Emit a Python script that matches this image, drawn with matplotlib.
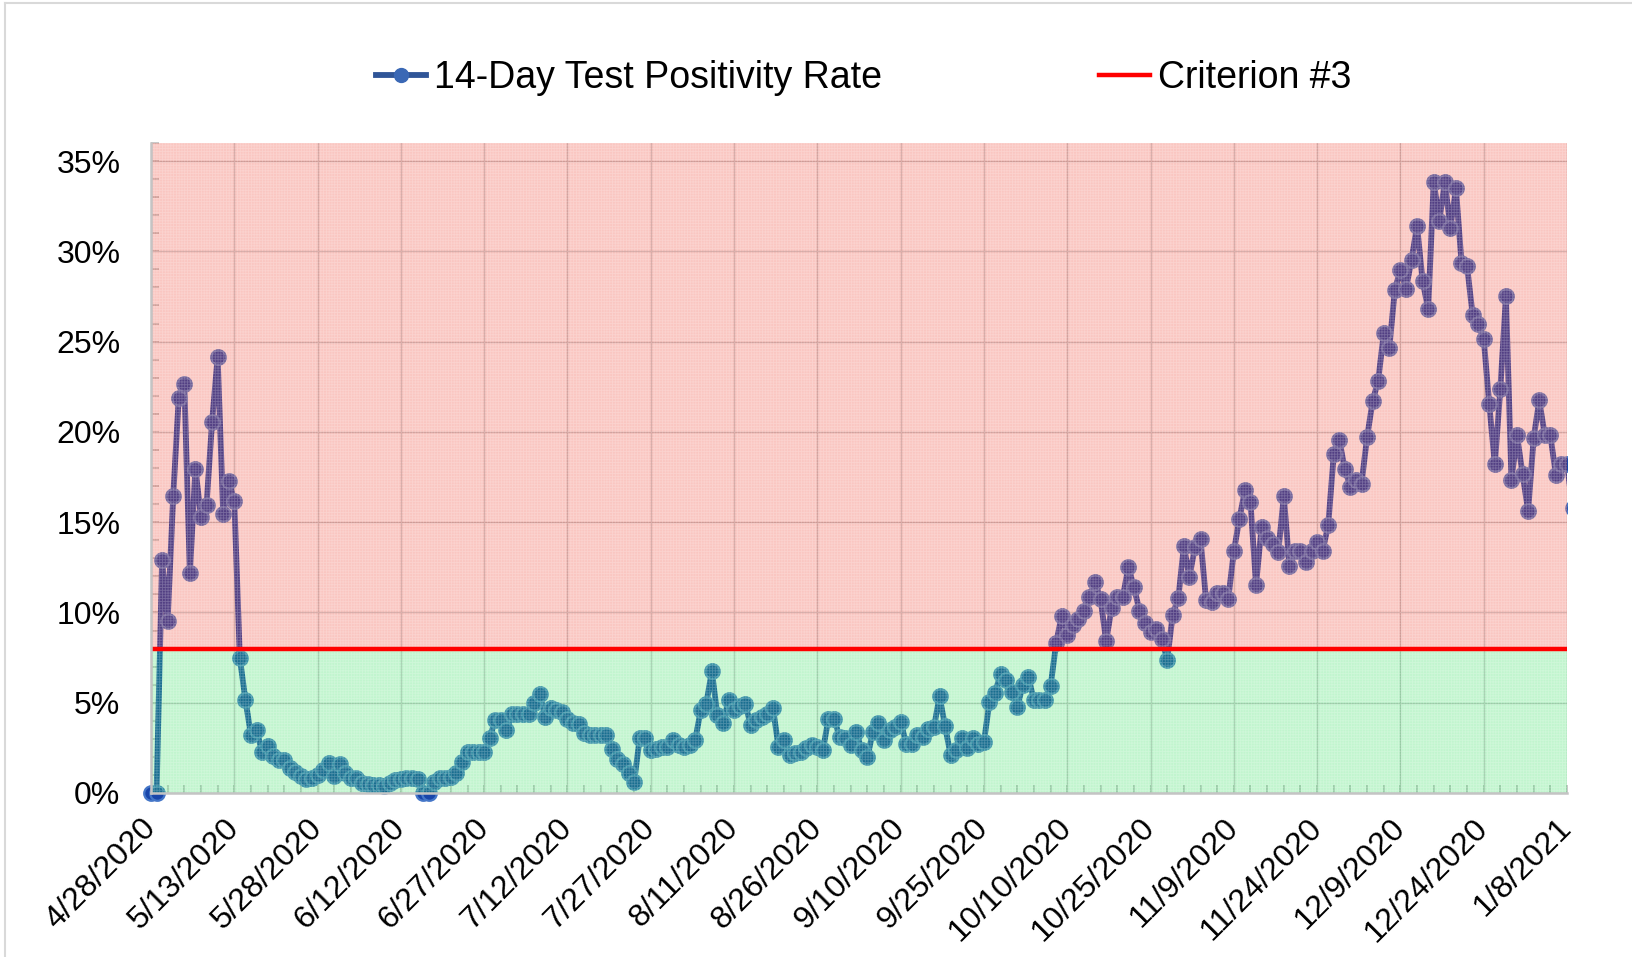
import numpy as np
import pandas as pd
import matplotlib
matplotlib.use('Agg')
import matplotlib.pyplot as plt
from matplotlib.patches import Rectangle
from matplotlib.lines import Line2D

plt.rcParams['font.family'] = ['Liberation Sans', 'DejaVu Sans']
plt.rcParams['hatch.linewidth'] = 0.6

# daily 14-day positivity (%), starting 4/28/2020
start_date = '2020-04-28'
end_date = '2021-01-08'
positivity = [
    0.0, 0.0, 12.9, 9.55, 16.45, 21.9, 22.66, 12.17, 17.96, 15.3,
    15.96, 20.56, 24.15, 15.48, 17.28, 16.18, 7.47, 5.17, 3.2, 3.48,
    2.28, 2.6, 2.04, 1.82, 1.82, 1.36, 1.18, 0.94, 0.75, 0.81,
    0.99, 1.27, 1.64, 0.94, 1.58, 1.09, 0.81, 0.81, 0.53, 0.5,
    0.44, 0.44, 0.39, 0.53, 0.7, 0.8, 0.85, 0.85, 0.8, 0.0,
    0.0, 0.62, 0.81, 0.81, 0.9, 1.09, 1.73, 2.28, 2.28, 2.28,
    2.28, 3.07, 4.03, 4.06, 3.47, 4.36, 4.36, 4.36, 4.36, 4.97,
    5.47, 4.2, 4.73, 4.57, 4.5, 4.12, 3.85, 3.81, 3.3, 3.2,
    3.2, 3.2, 3.2, 2.41, 1.91, 1.63, 1.09, 0.59, 3.02, 3.02,
    2.37, 2.45, 2.55, 2.55, 2.93, 2.65, 2.55, 2.65, 2.93, 4.58,
    4.95, 6.75, 4.3, 3.85, 5.13, 4.58, 4.8, 4.95, 3.75, 4.03,
    4.2, 4.4, 4.73, 2.55, 2.96, 2.1, 2.19, 2.28, 2.47, 2.65,
    2.55, 2.37, 4.12, 4.12, 3.11, 3.02, 2.65, 3.39, 2.37, 1.97,
    3.39, 3.85, 2.93, 3.48, 3.63, 3.94, 2.74, 2.74, 3.2, 3.11,
    3.57, 3.63, 5.36, 3.7, 2.1, 2.37, 3.02, 2.47, 3.02, 2.74,
    2.84, 5.04, 5.54, 6.61, 6.28, 5.6, 4.77, 5.97, 6.43, 5.13,
    5.13, 5.13, 5.9, 8.3, 9.83, 8.76, 9.28, 9.65, 10.07, 10.84,
    11.67, 10.75, 8.41, 10.25, 10.84, 10.84, 12.5, 11.43, 10.1, 9.4,
    8.91, 9.09, 8.54, 7.38, 9.88, 10.8, 13.66, 11.98, 13.6, 14.06,
    10.69, 10.56, 11.06, 11.06, 10.75, 13.38, 15.17, 16.77, 16.09, 11.52,
    14.74, 14.12, 13.79, 13.33, 16.45, 12.59, 13.42, 13.42, 12.77, 13.42,
    13.88, 13.42, 14.85, 18.76, 19.53, 17.93, 16.95, 17.32, 17.14, 19.71,
    21.7, 22.84, 25.47, 24.64, 27.87, 28.97, 27.92, 29.52, 31.42, 28.33,
    26.82, 33.85, 31.68, 33.85, 31.31, 33.48, 29.38, 29.19, 26.49, 25.97,
    25.16, 21.52, 18.2, 22.4, 27.5, 17.34, 19.82, 17.65, 15.63, 19.67,
    21.74, 19.82, 19.82, 17.61, 18.2, 18.24, 15.8,
]
criterion = 8.0

dates = pd.date_range(start_date, periods=len(positivity), freq='D')
rate = np.array(positivity) / 100
axis_dates = pd.date_range(start_date, end_date, freq='D')

W, H = 1632, 957
fig = plt.figure(figsize=(W / 100, H / 100), dpi=100)
ax = fig.add_axes([151 / W, 1 - 793 / H, (1567 - 151) / W, (793 - 143) / H])

line_col = '#1946aa'
edge_col = '#4476c8'
grid_col = '#c4c4c4'

# series under the coloured bands (bands are see-through)
line, = ax.plot(dates, rate, color=line_col, lw=4.2, marker='o', ms=10.5,
                mfc=line_col, mec=edge_col, mew=1.6, zorder=2,
                label='14-Day Test Positivity Rate')
clip = Rectangle((-0.03, -0.06), 1.03, 1.12, transform=ax.transAxes)
line.set_clip_path(clip)

# patterned bands: tinted face + fine light grid
ax.axhspan(criterion / 100, 0.36, facecolor=(0.93, 0.18, 0.10, 0.27),
           edgecolor=(1, 1, 1, 0.22), hatch='++++++', lw=0, zorder=3)
ax.axhspan(0, criterion / 100, facecolor=(0.10, 0.86, 0.30, 0.27),
           edgecolor=(1, 1, 1, 0.22), hatch='++++++', lw=0, zorder=3)
crit = ax.axhline(criterion / 100, color='#ff0000', lw=3.2, zorder=4, label='Criterion #3')

ax.set_xlim(axis_dates[0], axis_dates[-1])
ax.set_ylim(0, 0.36)

ax.set_xticks(axis_dates[::15])
ax.set_xticklabels([f'{d.month}/{d.day}/{d.year}' for d in axis_dates[::15]],
                   rotation=45, ha='right', va='center', rotation_mode='anchor')
ax.set_xticks(axis_dates[::3], minor=True)
yt = np.arange(0, 0.36, 0.05)
ax.set_yticks(yt)
ax.set_yticklabels([f'{v:.0%}' for v in yt])
ax.set_yticks(np.arange(0, 0.361, 0.01), minor=True)

ax.grid(True, which='major', color=grid_col, lw=1.0, zorder=1)
ax.set_axisbelow(True)
ax.tick_params(axis='both', which='both', direction='in', color=grid_col, length=6, width=1.3)
ax.tick_params(axis='y', which='major', labelsize=23, pad=22)
ax.tick_params(axis='x', which='major', labelsize=23, pad=22)
for s in ['top', 'right']:
    ax.spines[s].set_visible(False)
for s in ['left', 'bottom']:
    ax.spines[s].set_color(grid_col)
    ax.spines[s].set_linewidth(1.8)
    ax.spines[s].set_zorder(5)

leg_line = Line2D([], [], color='#2f5597', lw=4.2, marker='o', ms=10,
                  mfc='#3a68b5', mec='#3a68b5')
fig.legend([leg_line, crit], ['14-Day Test Positivity Rate', 'Criterion #3'],
           loc='center', bbox_to_anchor=(0.529, 1 - 78 / H), ncol=2,
           frameon=False, fontsize=27, handlelength=1.35, handletextpad=0.2,
           columnspacing=5.8)

# chart area border
bx = 5 / W
by = 1 - 3 / H
fig.add_artist(Line2D([bx, bx], [0, by], color='#d9d9d9', lw=1.5))
fig.add_artist(Line2D([bx, 1], [by, by], color='#d9d9d9', lw=1.5))

fig.savefig('out.png', dpi=100)
